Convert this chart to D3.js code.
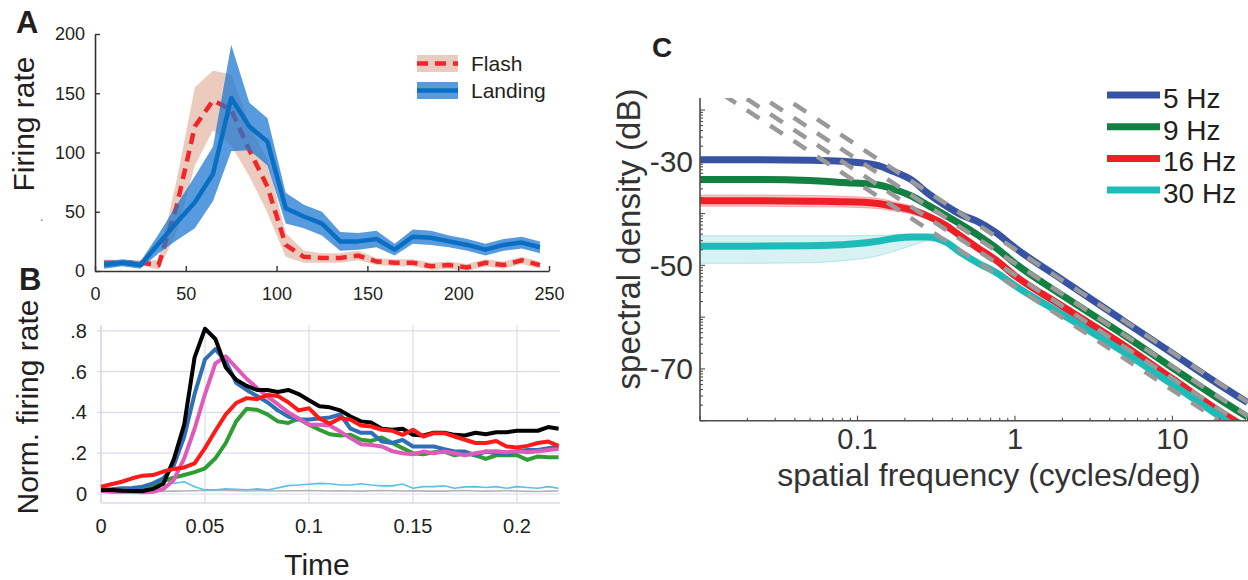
<!DOCTYPE html>
<html>
<head>
<meta charset="utf-8">
<script src="https://cdn.jsdelivr.net/npm/d3@7"></script>
<style>
  html, body { margin: 0; padding: 0; background: #fff; }
  svg { display: block; font-family: "Liberation Sans", Arial, Helvetica, sans-serif; }
</style>
</head>
<body>
<svg id="fig" width="1248" height="580"></svg>
<script>
// ---------------- Panel A: firing rate, flash vs landing ----------------
const binCenters   = [5,15,25,35,45,55,65,75,85,95,105,115,125,135,145,155,165,175,185,195,205,215,225,235,245];
const flashMean    = [7,7,7,5,55,122,144,136,102,71,22,12,11,11,13,8,7,7,4,5,3,7,5,9,5];
const flashSem     = [3,2,2,4,22,33,25,30,22,22,10,5,4,4,4,3,3,3,3,3,3,3,3,3,3];
const landingMean  = [5,7,5,23,41,58,82,146,122,109,53,46,40,25,25,27,18,29,28,25,22,18,22,24,20];
const landingSem   = [3,3,3,8,15,22,23,45,20,20,13,10,10,8,7,7,5,6,6,5,5,5,5,5,5];
const rateTicks    = [0,50,100,150,200];
const timeTicksA   = [0,50,100,150,200,250];
const legendA      = ["Flash","Landing"];

// ---------------- Panel B: normalised firing rate over time ----------------
const timeB = [0,0.005,0.01,0.015,0.02,0.025,0.03,0.035,0.04,0.045,0.05,0.055,0.06,0.065,0.07,0.075,0.08,0.085,0.09,0.095,
               0.1,0.105,0.11,0.115,0.12,0.125,0.13,0.135,0.14,0.145,0.15,0.155,0.16,0.165,0.17,0.175,0.18,0.185,0.19,0.195,
               0.2,0.205,0.21,0.215,0.22];
const traceBlack   = [.02,.02,.016,.015,.015,.025,.05,.17,.34,.67, .81,.76,.62,.56,.53,.51,.51,.50,.51,.49,
                      .46,.43,.425,.41,.38,.356,.35,.32,.315,.32, .29,.287,.30,.30,.29,.287,.30,.293,.303,.303,
                      .31,.31,.31,.328,.32];
const traceBlue    = [.02,.023,.028,.03,.036,.052,.077,.14,.28,.49, .66,.71,.65,.545,.51,.48,.45,.41,.38,.365,
                      .365,.37,.375,.39,.32,.30,.30,.257,.25,.265, .233,.233,.233,.22,.208,.208,.19,.208,.2,.195,
                      .208,.216,.216,.225,.233];
const traceMagenta = [.015,.011,.011,.011,.008,.011,.025,.069,.175,.32, .49,.64,.675,.62,.565,.52,.477,.44,.40,.37,
                      .34,.34,.336,.306,.274,.244,.24,.233,.21,.2, .195,.208,.2,.208,.2,.19,.2,.208,.21,.205,
                      .21,.205,.21,.216,.22];
const traceRed     = [.036,.048,.06,.077,.09,.093,.11,.123,.13,.15, .225,.31,.39,.446,.47,.465,.485,.48,.45,.41,
                      .42,.37,.345,.372,.364,.336,.331,.315,.31,.29, .315,.282,.298,.298,.282,.266,.25,.25,.26,.233,
                      .228,.236,.25,.257,.236];
const traceGreen   = [.025,.02,.02,.02,.025,.036,.064,.08,.093,.107, .126,.175,.25,.356,.418,.413,.39,.356,.348,.369,
                      .34,.315,.293,.287,.29,.266,.26,.277,.25,.225, .2,.195,.205,.208,.19,.2,.19,.172,.19,.19,
                      .19,.167,.184,.18,.18];
const traceCyan    = [.015,.015,.02,.025,.03,.048,.074,.052,.06,.036, .02,.021,.025,.023,.021,.025,.02,.03,.041,.044,
                      .048,.052,.05,.044,.044,.05,.044,.04,.04,.049, .028,.036,.036,.04,.028,.035,.036,.032,.036,.028,
                      .036,.032,.028,.036,.028];
const traceGray    = [.015,.014,.013,.012,.013,.014,.013,.014,.015,.016, .018,.018,.017,.016,.015,.016,.016,.015,.016,.016,
                      .017,.016,.015,.016,.015,.014,.016,.017,.016,.015, .016,.014,.015,.014,.016,.017,.015,.014,.015,.016,
                      .015,.013,.012,.014,.015];
const normTicks      = [0,0.2,0.4,0.6,0.8];
const normTickLabels = ["0",".2",".4",".6",".8"];
const timeTicksB     = [0,0.05,0.1,0.15,0.2];
const timeTickLabels = ["0","0.05","0.1","0.15","0.2"];

// ---------------- Panel C: spatial spectra per temporal frequency ----------------
const freqC   = [0.01,0.02,0.05,0.08,0.13,0.17,0.22,0.28,0.36,0.46,0.585,0.75,1,2,5,10,20,30];
const spec5   = [-29.6,-29.6,-29.7,-29.9,-30.6,-31.9,-33.5,-36.1,-38.4,-40.3,-41.6,-43.6,-46.6,-52.8,-60.9,-67.0,-73.1,-76.5];
const spec9   = [-33.4,-33.4,-33.6,-34.0,-34.4,-35.3,-36.6,-38.4,-40.3,-42.2,-44.2,-46.5,-49.6,-55.8,-63.6,-69.8,-75.9,-79.3];
const spec16  = [-37.5,-37.5,-37.6,-37.7,-38.0,-38.6,-39.3,-40.5,-42.2,-44.5,-46.7,-48.9,-52.0,-57.9,-65.6,-71.9,-78.2,-81.5];
const spec30  = [-46.3,-46.3,-46.2,-46.0,-45.4,-44.8,-44.5,-44.5,-45.4,-47.7,-49.6,-51.3,-53.9,-59.5,-66.9,-73.0,-79.2,-82.8];
const spread5  = [.4,.4,.4,.4,.4,.4,.4,.35,.3,.3,.3,.3,.25,.2,.2,.2,.2,.2];
const spread9  = [.5,.5,.5,.5,.5,.45,.4,.35,.3,.3,.3,.3,.25,.2,.2,.2,.2,.2];
const spread16 = [1.1,1.1,1.1,1.05,1.0,.9,.8,.6,.5,.4,.35,.3,.25,.2,.2,.2,.2,.2];
const upper30  = [-44.3,-44.3,-44.3,-44.3,-44.2,-44.1,-44.0,-44.1,-45.0,-47.4,-49.4,-51.1,-53.7,-59.3,-66.7,-72.8,-79.0,-82.6];
const lower30  = [-49.6,-49.6,-49.5,-49.1,-48.3,-47.3,-46.2,-45.3,-45.8,-48.0,-49.8,-51.5,-54.1,-59.7,-67.1,-73.2,-79.4,-83.0];
// power-law fits (straight in log-log), values at the two ends of the frequency range
const fitFreq  = [0.01, 30];
const fit5     = [-6.9, -76.4];
const fit9     = [-9.6, -79.1];
const fit16    = [-11.9, -81.4];
const fit30    = [-14.1, -83.6];
const dbTicks       = [-30,-50,-70];
const freqTickMajor = [0.1,1,10];
const freqTickLabels = ["0.1","1","10"];
const legendC = ["5 Hz","9 Hz","16 Hz","30 Hz"];

const INK = "#231f20";
const svg = d3.select("#fig");
svg.append("rect").attr("width",1248).attr("height",580).attr("fill","#fff");

// ======================= Panel A =======================
const xA = d3.scaleLinear().domain([0,250]).range([95,549]);
const yA = d3.scaleLinear().domain([0,200]).range([271,34]);
const gA = svg.append("g");

function bandPath(xs, mean, sem, x, y) {
  return d3.area()
    .x((d,i) => x(xs[i]))
    .y0((d,i) => y(Math.max(0, mean[i]-sem[i])))
    .y1((d,i) => y(mean[i]+sem[i]))(mean);
}
function linePath(xs, vals, x, y, curve) {
  const l = d3.line().x((d,i) => x(xs[i])).y(d => y(d));
  if (curve) l.curve(curve);
  return l(vals);
}

gA.append("path").attr("d", bandPath(binCenters, flashMean, flashSem, xA, yA))
  .attr("fill","#d9a088").attr("fill-opacity",0.55);
gA.append("path").attr("d", linePath(binCenters, flashMean, xA, yA))
  .attr("fill","none").attr("stroke","#f0262a").attr("stroke-width",4.5).attr("stroke-dasharray","11,7");
gA.append("path").attr("d", bandPath(binCenters, landingMean, landingSem, xA, yA))
  .attr("fill","#1f78d1").attr("fill-opacity",0.75);
gA.append("path").attr("d", linePath(binCenters, landingMean, xA, yA))
  .attr("fill","none").attr("stroke","#0a6fc2").attr("stroke-width",4.5).attr("stroke-linejoin","round");

const axAy = gA.append("g").attr("transform","translate(95,0)")
  .call(d3.axisLeft(yA).tickValues(rateTicks).tickSize(-5).tickSizeOuter(0).tickPadding(10));
const axAx = gA.append("g").attr("transform","translate(0,271)")
  .call(d3.axisBottom(xA).tickValues(timeTicksA).tickSize(-5).tickSizeOuter(0).tickPadding(16));
[axAy, axAx].forEach(a => {
  a.select(".domain").attr("stroke","#333").attr("stroke-width",1.6);
  a.selectAll(".tick line").attr("stroke","#333").attr("stroke-width",1.4);
  a.selectAll(".tick text").attr("fill",INK).attr("font-size",18).attr("font-family",null);
});

gA.append("text").attr("transform","translate(34,124) rotate(-90)").attr("text-anchor","middle")
  .attr("font-size",30).attr("fill",INK).text("Firing rate");
gA.append("text").attr("x",40).attr("y",221).attr("font-size",12).attr("fill","#555").text(".");

// legend A
const legA = gA.append("g");
[0,1].forEach(i => {
  const y0 = 55 + i*27;
  legA.append("rect").attr("x",417).attr("y",y0).attr("width",41).attr("height",17)
    .attr("fill", i===0 ? "#d9a088" : "#1f78d1").attr("fill-opacity", i===0 ? 0.55 : 0.75);
  legA.append("line").attr("x1",417).attr("x2",458).attr("y1",y0+8.5).attr("y2",y0+8.5)
    .attr("stroke", i===0 ? "#f0262a" : "#0a6fc2").attr("stroke-width",4.5)
    .attr("stroke-dasharray", i===0 ? "11,7" : null);
  legA.append("text").attr("x",471).attr("y",y0+16).attr("font-size",21).attr("fill",INK).text(legendA[i]);
});

// ======================= Panel B =======================
const xB = d3.scaleLinear().domain([0,0.22]).range([101,558.6]);
const yB = d3.scaleLinear().domain([0,0.8]).range([494,330.8]);
const gB = svg.append("g");
const gridC = "#dcdcf0";
normTicks.forEach(v => {
  gB.append("line").attr("x1",97).attr("x2",560).attr("y1",yB(v)).attr("y2",yB(v))
    .attr("stroke",gridC).attr("stroke-width",1.2);
});
timeTicksB.forEach(t => {
  gB.append("line").attr("x1",xB(t)).attr("x2",xB(t)).attr("y1",325).attr("y2",503)
    .attr("stroke", t===0 ? "#c9c9e6" : gridC).attr("stroke-width",1.2);
});
gB.append("line").attr("x1",101).attr("x2",560).attr("y1",503).attr("y2",503)
  .attr("stroke","#c9c9e6").attr("stroke-width",1.2);

const tracesB = [
  {v: traceGray,    c: "#b3b3b3", w: 1.6},
  {v: traceCyan,    c: "#55c4e6", w: 1.6},
  {v: traceGreen,   c: "#2f9e32", w: 4},
  {v: traceBlue,    c: "#2f6fb6", w: 4},
  {v: traceMagenta, c: "#e05ab9", w: 4},
  {v: traceBlack,   c: "#000000", w: 4},
  {v: traceRed,     c: "#ff1a1a", w: 4}
];
tracesB.forEach(s => {
  gB.append("path").attr("d", linePath(timeB, s.v, xB, yB))
    .attr("fill","none").attr("stroke",s.c).attr("stroke-width",s.w)
    .attr("stroke-linejoin","round");
});
normTicks.forEach((v,i) => {
  gB.append("text").attr("x",87).attr("y",yB(v)).attr("dy","0.35em").attr("text-anchor","end")
    .attr("font-size",20).attr("fill",INK).text(normTickLabels[i]);
});
timeTicksB.forEach((t,i) => {
  gB.append("text").attr("x",xB(t)).attr("y",533).attr("text-anchor","middle")
    .attr("font-size",20).attr("fill",INK).text(timeTickLabels[i]);
});
gB.append("text").attr("transform","translate(38,407) rotate(-90)").attr("text-anchor","middle")
  .attr("font-size",30).attr("fill",INK).text("Norm. firing rate");
gB.append("text").attr("x",317).attr("y",575).attr("text-anchor","middle")
  .attr("font-size",30).attr("fill",INK).text("Time");

// ======================= Panel C =======================
const xC = d3.scaleLog().domain([0.01,30]).range([700,1247.6]);
const yC = d3.scaleLinear().domain([-80,-17.7]).range([420.7,98.1]);
const gC = svg.append("g");
svg.append("defs").append("clipPath").attr("id","clipC")
  .append("rect").attr("x",700).attr("y",98.1).attr("width",548).attr("height",322.6);
const plotC = gC.append("g").attr("clip-path","url(#clipC)");

const seriesC = [
  {m: spec5,  lo: spec5.map((d,i)=>d-spread5[i]),  hi: spec5.map((d,i)=>d+spread5[i]),  c: "#3953a4", fill: "#3953a4", fo: 0.3},
  {m: spec9,  lo: spec9.map((d,i)=>d-spread9[i]),  hi: spec9.map((d,i)=>d+spread9[i]),  c: "#118040", fill: "#118040", fo: 0.3},
  {m: spec16, lo: spec16.map((d,i)=>d-spread16[i]), hi: spec16.map((d,i)=>d+spread16[i]), c: "#ee2027", fill: "#f27b80", fo: 0.45},
  {m: spec30, lo: lower30, hi: upper30, c: "#1dbcb8", fill: "#a8dfe2", fo: 0.45}
];
const curve = d3.curveMonotoneX;
seriesC.forEach(s => {
  const area = d3.area().curve(curve).x((d,i)=>xC(freqC[i])).y0((d,i)=>yC(s.lo[i])).y1((d,i)=>yC(s.hi[i]));
  plotC.append("path").attr("d", area(s.m)).attr("fill",s.fill).attr("fill-opacity",s.fo)
    .attr("stroke",s.c).attr("stroke-opacity",0.35).attr("stroke-width",0.8);
});
seriesC.forEach(s => {
  plotC.append("path").attr("d", linePath(freqC, s.m, xC, yC, curve))
    .attr("fill","none").attr("stroke",s.c).attr("stroke-width",7);
});
[fit5, fit9, fit16, fit30].forEach(f => {
  plotC.append("path").attr("d", linePath(fitFreq, f, xC, yC))
    .attr("fill","none").attr("stroke","#999999").attr("stroke-width",4.5)
    .attr("stroke-dasharray","15,13");
});

// axes C
const axisGray = "#4d4d4d";
gC.append("line").attr("x1",700).attr("x2",700).attr("y1",98.1).attr("y2",420.7)
  .attr("stroke",axisGray).attr("stroke-width",1.6);
gC.append("line").attr("x1",700).attr("x2",1248).attr("y1",420.7).attr("y2",420.7)
  .attr("stroke",axisGray).attr("stroke-width",1.6);
// y ticks at 10*log10(k*10^n), i.e. decade sub-divisions of the power scale
for (let n = -8; n <= -1; n++) {
  for (let k = 1; k <= 9; k++) {
    const db = 10*n + 10*Math.log10(k);
    if (db < -80 || db > -17.7) continue;
    const len = k === 1 ? 5 : 3;
    gC.append("line").attr("x1",700).attr("x2",700+len).attr("y1",yC(db)).attr("y2",yC(db))
      .attr("stroke",axisGray).attr("stroke-width",1.1);
  }
}
for (let n = -2; n <= 1; n++) {
  for (let k = 1; k <= 9; k++) {
    const f = k*Math.pow(10,n);
    if (f < 0.01 || f > 30.01) continue;
    const len = k === 1 ? 5 : 3;
    gC.append("line").attr("x1",xC(f)).attr("x2",xC(f)).attr("y1",420.7).attr("y2",420.7-len)
      .attr("stroke",axisGray).attr("stroke-width",1.1);
  }
}
dbTicks.forEach(v => {
  gC.append("text").attr("x",693).attr("y",yC(v)).attr("dy","0.35em").attr("text-anchor","end")
    .attr("font-size",30).attr("fill","#333").text(String(v));
});
freqTickMajor.forEach((f,i) => {
  gC.append("text").attr("x",xC(f)).attr("y",449).attr("text-anchor","middle")
    .attr("font-size",29).attr("fill","#333").text(freqTickLabels[i]);
});
gC.append("text").attr("x",989).attr("y",486).attr("text-anchor","middle")
  .attr("font-size",32).attr("fill","#333").text("spatial frequency (cycles/deg)");
gC.append("text").attr("transform","translate(640,239) rotate(-90)").attr("text-anchor","middle")
  .attr("font-size",33).attr("fill","#333").text("spectral density (dB)");

// legend C
legendC.forEach((lab,i) => {
  const y0 = 95 + i*31.7;
  gC.append("line").attr("x1",1107).attr("x2",1160).attr("y1",y0).attr("y2",y0)
    .attr("stroke",seriesC[i].c).attr("stroke-width",7);
  gC.append("text").attr("x",1163).attr("y",y0+13).attr("font-size",28).attr("fill",INK).text(lab);
});

// panel letters
svg.append("text").attr("x",16).attr("y",33).attr("font-size",31).attr("font-weight","bold").attr("fill",INK).text("A");
svg.append("text").attr("x",19).attr("y",290).attr("font-size",31).attr("font-weight","bold").attr("fill",INK).text("B");
svg.append("text").attr("x",652).attr("y",57).attr("font-size",28).attr("font-weight","bold").attr("fill",INK).text("C");
</script>
</body>
</html>
